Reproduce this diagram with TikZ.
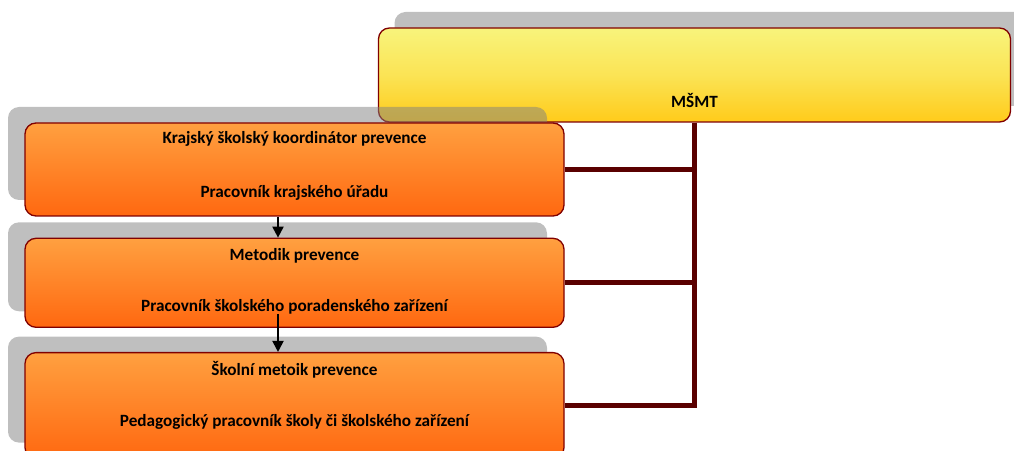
\documentclass[tikz,border=0pt]{standalone}
\usepackage{fontspec}
\setmainfont{Carlito}
\usetikzlibrary{positioning,shadows,arrows.meta}
\definecolor{boxred}{HTML}{800000}
\definecolor{linkred}{HTML}{5A0000}
\definecolor{orangetop}{HTML}{FFA040}
\definecolor{orangebot}{HTML}{FF6810}
\definecolor{yellowtop}{HTML}{F8F47C}
\definecolor{yellowbot}{HTML}{FFCB1A}

\begin{document}
\begin{tikzpicture}[x=1pt, y=1pt, font=\fontsize{17.2}{20}\selectfont\bfseries,
    box/.style={draw=boxred, line width=1.3pt, rounded corners=11pt},
    orangebox/.style={box, minimum width=539pt, top color=orangetop, bottom color=orangebot,
        general shadow={fill=black!50, opacity=.5, shadow xshift=-17pt, shadow yshift=16pt}},
    yellowbox/.style={box, minimum width=632pt, top color=yellowtop, bottom color=yellowbot, middle color=yellowtop!60!yellowbot},
    link/.style={linkred, line width=5pt},
    flow/.style={black, line width=2pt, -{Triangle[length=11pt, width=11pt]}}]
    \useasboundingbox (0,0) rectangle (1014,450);
    \clip (0,0) rectangle (1014,450);
    % shadow of the top box, cut by the right edge
    \fill[black!50, opacity=.5, rounded corners=11pt] (394.5,344) rectangle (1026.5,438);
    \node[yellowbox, minimum height=94pt] (msmt) at (694.5,375) {};
    \node (msmtname) at ([yshift=22pt]msmt.south) {MŠMT};

    \node[orangebox, minimum height=93pt] (kraj) at (294.5,280.5) {};
    \node (kraj1) at ([yshift=-17pt]kraj.north) {Krajský školský koordinátor prevence};
    \node (kraj2) at ([yshift=24pt]kraj.south) {Pracovník krajského úřadu};

    \node[orangebox, minimum height=89pt, below=21pt of kraj] (metodik) {};
    \node (metodik1) at ([yshift=-18pt]metodik.north) {Metodik prevence};
    \node (metodik2) at ([yshift=21pt]metodik.south) {Pracovník školského poradenského zařízení};

    \node[orangebox, minimum height=106pt, below=24pt of metodik] (skola) {};
    \node (skola1) at ([yshift=-18pt]skola.north) {Školní metoik prevence};
    \node (skola2) at ([yshift=37pt]skola.south) {Pedagogický pracovník školy či školského zařízení};

    \draw[flow] ([xshift=-16.5pt]kraj.south) -- ([xshift=-16.5pt]metodik.north);
    \draw[flow] ([xshift=-16.5pt, yshift=14pt]metodik.south) -- ([xshift=-16.5pt]skola.north);

    \draw[link] (msmt.south) |- (skola.east);
    \draw[link] (kraj.east) -- (kraj.east -| msmt.south);
    \draw[link] (metodik.east) -- (metodik.east -| msmt.south);
\end{tikzpicture}
\end{document}
